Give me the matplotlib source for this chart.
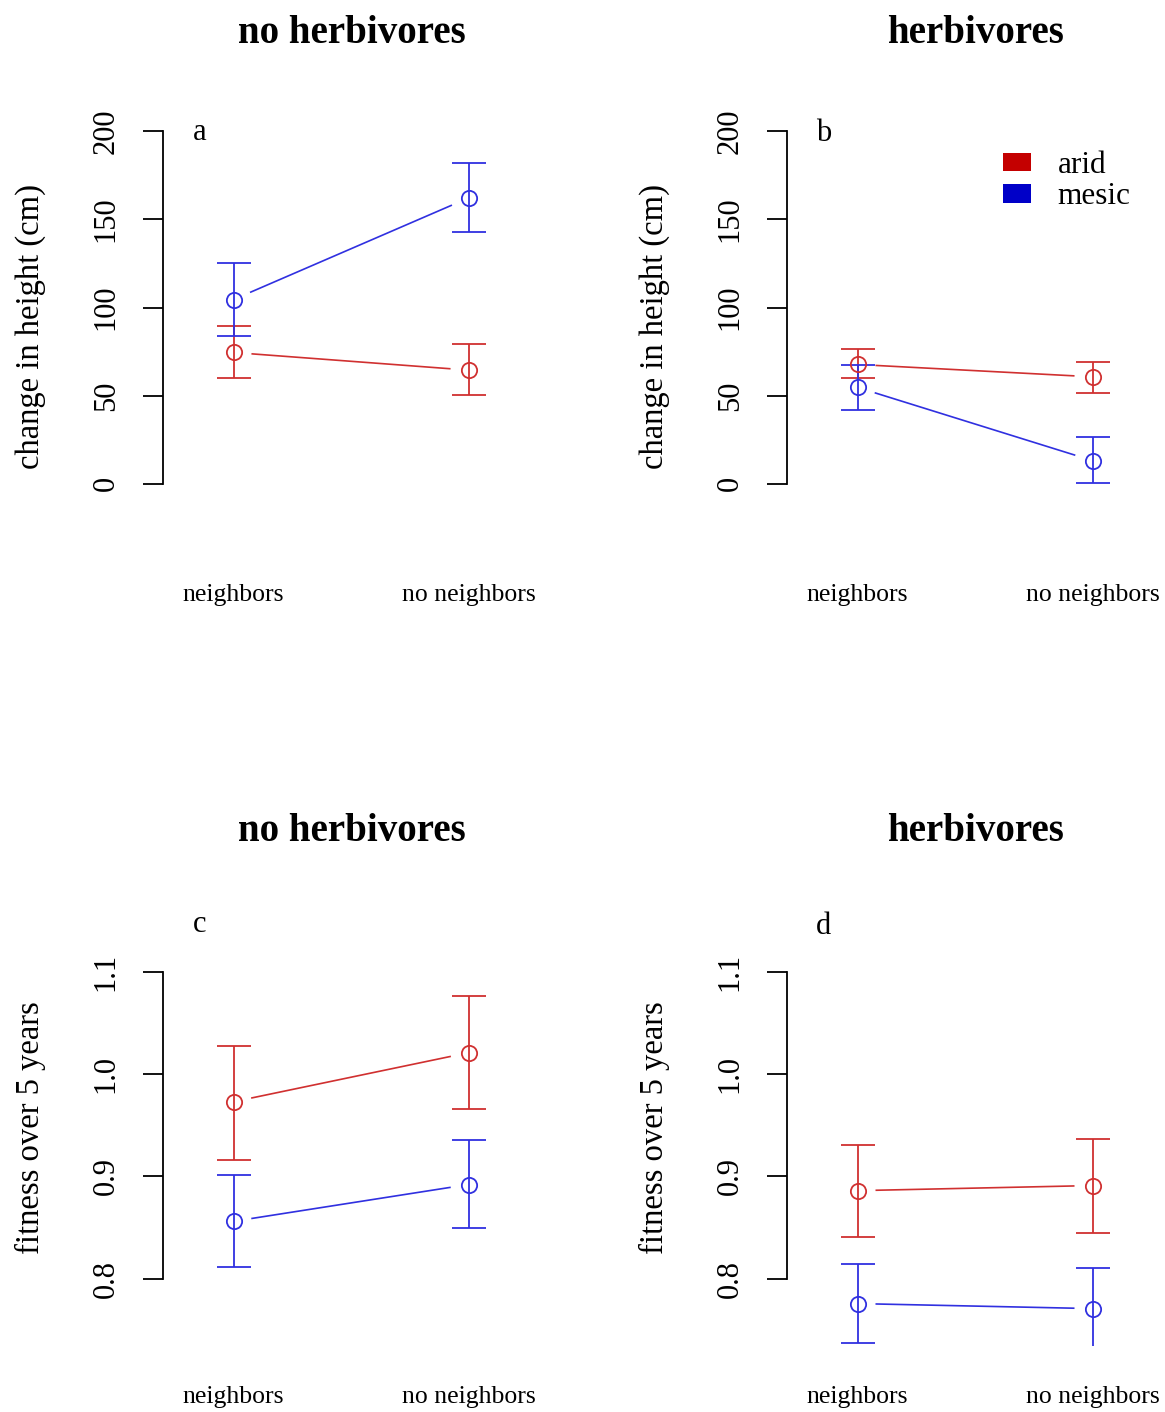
import numpy as np
import matplotlib as mpl
mpl.use('agg')
import matplotlib.pyplot as plt
from matplotlib.patches import Patch

plt.rcParams['font.family'] = ['Liberation Serif', 'DejaVu Serif']

## data
groups = ['neighbors', 'no neighbors']
xpos = [1, 2]

# a: change in height, no herbivores
a_arid = [74.5, 64.5]
a_arid_lo = [59.8, 50.4]
a_arid_hi = [89.4, 79.1]
a_mesic = [104.5, 162.1]
a_mesic_lo = [84.0, 142.6]
a_mesic_hi = [125.3, 181.9]

# b: change in height, herbivores
b_arid = [67.7, 60.7]
b_arid_lo = [59.8, 51.7]
b_arid_hi = [76.6, 68.9]
b_mesic = [54.7, 13.2]
b_mesic_lo = [41.9, 0.4]
b_mesic_hi = [67.2, 26.4]

# c: fitness, no herbivores
c_arid = [0.973, 1.021]
c_arid_lo = [0.916, 0.966]
c_arid_hi = [1.028, 1.076]
c_mesic = [0.856, 0.892]
c_mesic_lo = [0.811, 0.849]
c_mesic_hi = [0.901, 0.936]

# d: fitness, herbivores
d_arid = [0.886, 0.891]
d_arid_lo = [0.841, 0.845]
d_arid_hi = [0.931, 0.937]
d_mesic = [0.7755, 0.7706]
d_mesic_lo = [0.737, 0.728]
d_mesic_hi = [0.814, 0.810]

red = '#D03030'
blue = '#3030E0'

W, H = 1165, 1412
fig = plt.figure(figsize=(W/100, H/100), dpi=100)


def add_axes_px(left, top, width, bottom):
    return fig.add_axes([left/W, 1 - bottom/H, width/W, (bottom - top)/H])


def gap_line(ax, xs, ys, color, gap=18):
    # R type="b": leave a gap round each point
    pts = ax.transData.transform(np.column_stack([xs, ys]))
    inv = ax.transData.inverted()
    for p0, p1 in zip(pts[:-1], pts[1:]):
        d = p1 - p0
        u = d / np.hypot(*d)
        seg = inv.transform(np.array([p0 + u*gap, p1 - u*gap]))
        ax.plot(seg[:, 0], seg[:, 1], color=color, lw=1.2, solid_capstyle='butt')


def series(ax, y, lo, hi, color):
    y = np.array(y); lo = np.array(lo); hi = np.array(hi)
    ax.errorbar(xpos, y, yerr=[y - lo, hi - y], fmt='o', mfc='none', mec=color,
                mew=1.3, ms=11, color=color, ecolor=color, elinewidth=1.3,
                capsize=12.2, capthick=1.3)
    gap_line(ax, xpos, y, color)


def style(ax, ylim, bounds, ticks, ticklabels, xpad, ylabel, ylab_y):
    ax.set_xlim(0.7, 2.3)
    ax.set_ylim(*ylim)
    for s in ['top', 'right', 'bottom']:
        ax.spines[s].set_visible(False)
    ax.spines['left'].set_bounds(*bounds)
    ax.spines['left'].set_linewidth(1.3)
    ax.set_yticks(ticks, ticklabels)
    ax.tick_params(axis='y', length=14.4, width=1.3, labelsize=22,
                   labelrotation=90, pad=16)
    for lab in ax.get_yticklabels():
        lab.set_va('center')
    ax.set_xticks(xpos, groups)
    ax.tick_params(axis='x', length=0, labelsize=18.5, pad=xpad)
    ax.set_ylabel(ylabel, fontsize=23.5)
    ax.yaxis.set_label_coords(-0.31, ylab_y)


panels = [
    # left, top, bottom, ylim
    (163, 117, 498, (-8, 208)),
    (787, 117, 498, (-8, 208)),
    (163, 960, 1346, (0.734, 1.1117)),
    (787, 960, 1346, (0.734, 1.1117)),
]
axs = [add_axes_px(l, t, 376, b) for l, t, b, _ in panels]

for ax, p in zip(axs[:2], panels[:2]):
    style(ax, p[3], (0, 200), [0, 50, 100, 150, 200],
          ['0', '50', '100', '150', '200'], 62, 'change in height (cm)', 0.451)
for ax, p in zip(axs[2:], panels[2:]):
    style(ax, p[3], (0.8, 1.1), [0.8, 0.9, 1.0, 1.1],
          ['0.8', '0.9', '1.0', '1.1'], 29, 'fitness over 5 years', 0.565)

series(axs[0], a_arid, a_arid_lo, a_arid_hi, red)
series(axs[0], a_mesic, a_mesic_lo, a_mesic_hi, blue)
series(axs[1], b_arid, b_arid_lo, b_arid_hi, red)
series(axs[1], b_mesic, b_mesic_lo, b_mesic_hi, blue)
series(axs[2], c_arid, c_arid_lo, c_arid_hi, red)
series(axs[2], c_mesic, c_mesic_lo, c_mesic_hi, blue)
series(axs[3], d_arid, d_arid_lo, d_arid_hi, red)
series(axs[3], d_mesic, d_mesic_lo, d_mesic_hi, blue)

## titles and panel letters
for (x, y, t) in [(352, 43, 'no herbivores'), (975, 43, 'herbivores'),
                  (352, 841, 'no herbivores'), (975, 841, 'herbivores')]:
    fig.text(x/W, 1 - y/H, t, ha='center', va='baseline', fontsize=28,
             fontweight='bold')
for (x, y, t) in [(193, 140, 'a'), (816, 141, 'b'), (193, 932, 'c'), (816, 934, 'd')]:
    fig.text(x/W, 1 - y/H, t, ha='left', va='baseline', fontsize=22)

## legend
handles = [Patch(facecolor='#C40000', edgecolor='none', label='arid'),
           Patch(facecolor='#0000C8', edgecolor='none', label='mesic')]
fig.legend(handles=handles, loc='upper left', bbox_to_anchor=(1003/W, 1 - 151/H),
           bbox_transform=fig.transFigure, frameon=False, fontsize=22.5,
           handlelength=0.9, handleheight=0.55, handletextpad=0.85,
           labelspacing=0.08, borderpad=0, borderaxespad=0)

fig.savefig('out.png', dpi=100)
